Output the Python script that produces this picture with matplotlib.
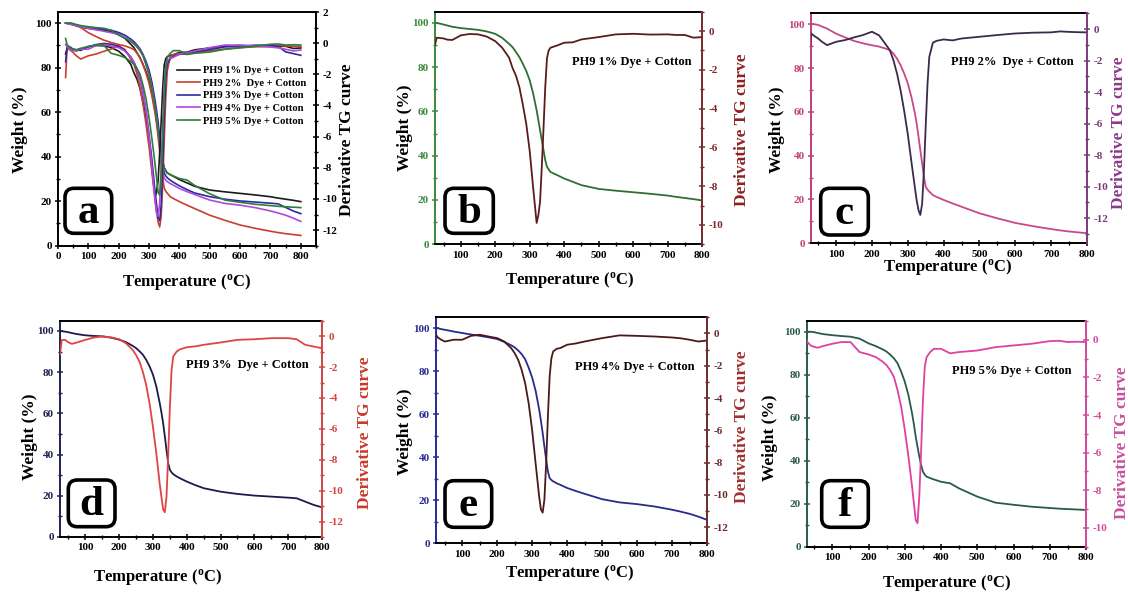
import matplotlib.pyplot as plt
from matplotlib.patches import FancyBboxPatch
from matplotlib.ticker import MultipleLocator

plt.rcParams["font.family"] = "serif"
plt.rcParams["font.serif"] = ["Liberation Serif", "DejaVu Serif"]
plt.rcParams["font.weight"] = "bold"
plt.rcParams["mathtext.default"] = "regular"
plt.rcParams["axes.unicode_minus"] = False

W, H = 1128, 592

# temperature grid (°C), shared by all samples
temp = [25, 30, 40, 50, 60, 75, 100, 125, 150, 175, 200, 220, 240, 250, 260,
        270, 280, 290, 300, 310, 320, 325, 330, 335, 340, 345, 350, 355, 360,
        370, 380, 400, 425, 450, 500, 550, 600, 650, 700, 725, 750, 775, 800]

# weight (%)
weight_1 = [100, 99.9, 99.6, 99.2, 98.8, 98.2, 97.6, 97.2, 96.8, 96.1, 95.0, 93.2, 90.5, 89.0, 86.8,
            84.5, 81.5, 78.2, 74.0, 68.0, 60.5, 56.0, 51.5, 47.0, 42.5, 38.0, 35.0, 33.8, 32.7,
            31.9, 31.2, 29.7, 28.2, 26.7, 25.0, 24.2, 23.5, 22.8, 22.0, 21.4, 20.9, 20.4, 19.8]
weight_2 = [100, 100, 100, 99.7, 99.0, 98.0, 95.7, 94.0, 92.4, 91.3, 90.4, 89.8, 88.8, 88.1, 86.6,
            84.3, 81.3, 77.5, 73.0, 66.9, 59.3, 54.5, 48.6, 42.5, 36.5, 30.4, 25.8, 24.5, 23.6,
            22.0, 21.2, 19.8, 18.2, 16.7, 13.7, 11.4, 9.3, 7.8, 6.5, 5.9, 5.4, 5.0, 4.6]
weight_3 = [100, 99.9, 99.7, 99.4, 99.0, 98.5, 97.9, 97.6, 97.4, 96.8, 95.8, 94.6, 92.8, 91.7, 90.2,
            88.5, 86.0, 82.8, 78.8, 73.0, 65.0, 60.5, 55.3, 49.0, 42.3, 35.8, 32.6, 31.4, 30.5,
            29.4, 28.5, 26.9, 25.2, 23.7, 22.0, 20.9, 20.1, 19.6, 19.1, 18.8, 17.2, 15.6, 14.4]
weight_4 = [100, 99.9, 99.5, 99.2, 98.9, 98.4, 97.7, 97.0, 96.4, 95.7, 94.9, 93.6, 92.0, 91.0, 89.6,
            87.9, 85.5, 81.6, 77.0, 70.8, 62.2, 57.0, 51.3, 45.0, 38.9, 33.4, 30.3, 29.4, 28.8,
            27.9, 27.2, 25.7, 24.3, 23.0, 20.5, 19.0, 18.2, 17.1, 15.6, 14.7, 13.7, 12.4, 10.9]
weight_5 = [100, 100, 100, 99.8, 99.4, 98.9, 98.4, 98.0, 97.7, 96.8, 94.6, 93.3, 91.7, 90.7, 89.3,
            87.6, 85.3, 81.4, 76.7, 70.5, 62.0, 57.0, 51.2, 46.5, 41.9, 38.0, 34.9, 33.5, 32.6,
            31.9, 31.3, 30.2, 29.5, 27.1, 23.3, 20.5, 19.5, 18.6, 18.0, 17.7, 17.5, 17.3, 17.1]

# derivative TG
dtg_1 = [-0.7, -0.34, -0.36, -0.38, -0.44, -0.46, -0.22, -0.15, -0.17, -0.28, -0.52, -0.86, -1.37, -1.9, -2.3,
         -2.9, -3.8, -4.8, -6.2, -8.1, -9.9, -9.5, -8.8, -7.0, -5.0, -2.9, -1.4, -1.0, -0.86,
         -0.8, -0.74, -0.6, -0.58, -0.43, -0.31, -0.17, -0.14, -0.18, -0.17, -0.2, -0.2, -0.34, -0.31]
dtg_2 = [-2.2, -0.28, -0.45, -0.6, -0.8, -1.02, -0.81, -0.7, -0.53, -0.38, -0.17, -0.4, -1.02, -1.34, -1.98,
         -2.83, -3.9, -5.2, -6.67, -8.4, -10.1, -10.9, -11.5, -11.8, -11.1, -9.0, -6.2, -3.5, -1.77,
         -0.87, -0.75, -0.66, -0.72, -0.6, -0.49, -0.38, -0.28, -0.23, -0.21, -0.15, -0.18, -0.2, -0.21]
dtg_3 = [-1.2, -0.25, -0.24, -0.4, -0.5, -0.41, -0.24, -0.09, -0.02, -0.07, -0.2, -0.46, -0.89, -1.22, -1.65,
         -2.3, -3.17, -4.36, -5.88, -7.6, -9.57, -10.4, -11.2, -11.4, -10.4, -7.8, -4.6, -2.2, -1.32,
         -1.0, -0.85, -0.72, -0.66, -0.56, -0.41, -0.24, -0.2, -0.13, -0.13, -0.2, -0.56, -0.67, -0.78]
dtg_4 = [-0.08, -0.25, -0.39, -0.5, -0.46, -0.39, -0.39, -0.15, -0.08, -0.19, -0.29, -0.5, -0.91, -1.22, -1.64,
         -2.26, -3.09, -4.33, -6.0, -8.07, -10.1, -10.9, -11.1, -10.3, -8.06, -5.16, -2.67, -1.53, -1.12,
         -0.95, -0.91, -0.7, -0.62, -0.5, -0.29, -0.12, -0.15, -0.19, -0.25, -0.3, -0.39, -0.5, -0.44]
dtg_5 = [0.3, -0.1, -0.3, -0.38, -0.42, -0.33, -0.21, -0.12, -0.12, -0.65, -0.78, -0.92, -1.18, -1.36, -1.63,
         -1.98, -2.69, -3.57, -4.8, -6.22, -7.8, -8.7, -9.58, -9.75, -8.3, -5.87, -3.2, -1.45, -0.92,
         -0.65, -0.48, -0.48, -0.72, -0.65, -0.57, -0.39, -0.3, -0.21, -0.07, -0.05, -0.12, -0.1, -0.12]

weights = [weight_1, weight_2, weight_3, weight_4, weight_5]
dtgs = [dtg_1, dtg_2, dtg_3, dtg_4, dtg_5]
sample_names = ["PH9 1% Dye + Cotton", "PH9 2%  Dye + Cotton", "PH9 3% Dye + Cotton",
                "PH9 4% Dye + Cotton", "PH9 5% Dye + Cotton"]
panel_titles = ["PH9 1% Dye + Cotton", "PH9 2%  Dye + Cotton", "PH9 3%  Dye + Cotton",
                "PH9 4% Dye + Cotton", "PH9 5% Dye + Cotton"]
overlay_colors = ["#1a1a1a", "#c8402c", "#2b2b9b", "#b048e0", "#2e7d3a"]

# single-sample panels: pixel box, limits, colours, letter box and text positions
panels = [
    dict(box=(435, 11.7, 702, 244.3), xlim=(25, 800), rlim=(-11, 1), wc="#2f6f34", dc="#5a1c1c",
         lc="#3a8a3a", rc="#7a2a2a", rl="#8b2222", letter="b", lbox=(445, 188.3, 493.3, 233.3),
         title=(632, 62), ylab=(405, 128), rlab=(741.7, 130), xlab=(570, 280)),
    dict(box=(811, 13.3, 1087, 243.3), xlim=(30, 800), rlim=(-13.6, 1), wc="#c8488a", dc="#3c2a4c",
         lc="#c0407a", rc="#7a3a7a", rl="#8a3a8a", letter="c", lbox=(820.7, 188.3, 868.3, 235),
         title=(1012, 62), ylab=(776.7, 130), rlab=(1119, 133), xlab=(948, 267)),
    dict(box=(60, 320.7, 322, 537), xlim=(25, 800), rlim=(-13, 1), wc="#1c1c4c", dc="#e04444",
         lc="#202050", rc="#d04444", rl="#c83a2a", letter="d", lbox=(68.3, 480, 115, 526.7),
         title=(247, 365), ylab=(30, 436.7), rlab=(365, 433), xlab=(158, 577)),
    dict(box=(436, 317.3, 707, 543.3), xlim=(25, 800), rlim=(-13, 1), wc="#2a2a8a", dc="#4a1a1a",
         lc="#2a2a90", rc="#6b2b2b", rl="#a03030", letter="e", lbox=(445, 480.7, 491.7, 527.3),
         title=(635, 367), ylab=(405, 431.7), rlab=(741.7, 426.7), xlab=(570, 573)),
    dict(box=(807, 321, 1086, 546.7), xlim=(30, 800), rlim=(-11, 1), wc="#2a5a4c", dc="#e040a0",
         lc="#2a5a50", rc="#d44a9c", rl="#c8509c", letter="f", lbox=(821.7, 480.7, 868.3, 527.3),
         title=(1012, 371), ylab=(770, 438), rlab=(1121.7, 443), xlab=(946.7, 583)),
]

fig = plt.figure(figsize=(W / 100, H / 100), dpi=100)


def px_rect(l, t, r, b):
    return [l / W, 1 - b / H, (r - l) / W, (b - t) / H]


def fig_text(x, y, s, **kw):
    fig.text(x / W, 1 - y / H, s, ha="center", va="center", **kw)


def letter_box(l, t, r, b, letter):
    patch = FancyBboxPatch((l / 100, (H - b) / 100), (r - l) / 100, (b - t) / 100,
                           boxstyle="round,pad=0,rounding_size=0.09",
                           transform=fig.dpi_scale_trans, fc="white", ec="black", lw=2.6,
                           zorder=5)
    fig.add_artist(patch)
    fig.text((l + r) / 2 / W, 1 - ((t + b) / 2 + 2) / H, letter, ha="center", va="center",
             fontsize=31, fontweight="bold", zorder=6)


def style_axes(ax, ax2, lc, rc, xlim, rlim):
    ax.set_xlim(*xlim)
    ax.set_ylim(0, 105)
    ax2.set_ylim(*rlim)
    ax.xaxis.set_major_locator(MultipleLocator(100))
    ax.xaxis.set_minor_locator(MultipleLocator(50))
    ax.yaxis.set_major_locator(MultipleLocator(20))
    ax.yaxis.set_minor_locator(MultipleLocator(10))
    ax2.yaxis.set_major_locator(MultipleLocator(2))
    ax2.yaxis.set_minor_locator(MultipleLocator(1))
    for a in (ax, ax2):
        a.tick_params(which="major", direction="inout", length=5, width=1.1, labelsize=8, pad=2)
        a.tick_params(which="minor", direction="inout", length=3, width=1)
    ax.spines["right"].set_visible(False)
    for s in ("left", "top", "bottom"):
        ax2.spines[s].set_visible(False)
    for s in ("left", "top", "bottom"):
        ax.spines[s].set_linewidth(1.4)
    ax2.spines["right"].set_linewidth(1.4)
    ax.spines["left"].set_color(lc)
    ax.tick_params(axis="y", which="both", colors=lc)
    ax2.spines["right"].set_color(rc)
    ax2.tick_params(axis="y", which="both", colors=rc)


# panel a: all samples overlaid
ax = fig.add_axes(px_rect(58, 12, 316, 245.7))
ax2 = ax.twinx()
lines = []
for w, d, c, name in zip(weights, dtgs, overlay_colors, sample_names):
    ln, = ax.plot(temp, w, color=c, lw=1.2, label=name)
    ax2.plot(temp, d, color=c, lw=1.2)
    lines.append(ln)
style_axes(ax, ax2, "black", "black", (0, 850), (-13, 2))
ax2.legend(lines, sample_names, loc="upper right", bbox_to_anchor=((306 - 58) / 258, 1 - (66 - 12) / 233.7),
           frameon=False, handlelength=2.2, handletextpad=0.25, labelspacing=0.3,
           borderpad=0, borderaxespad=0, prop={"weight": "bold", "size": 7.6})
fig_text(20, 130, "Weight (%)", rotation=90, fontsize=12.5, fontweight="bold")
fig_text(346.7, 140, "Derivative TG curve", rotation=90, fontsize=12.5, fontweight="bold")
fig_text(187, 282, r"Temperature ($^{\mathregular{o}}$C)", fontsize=12, fontweight="bold")
letter_box(65, 188.3, 111.7, 233.3, "a")

# panels b-f: one sample each
for i, p in enumerate(panels):
    ax = fig.add_axes(px_rect(*p["box"]))
    ax2 = ax.twinx()
    ax.plot(temp, weights[i], color=p["wc"], lw=1.3)
    ax2.plot(temp, dtgs[i], color=p["dc"], lw=1.3)
    style_axes(ax, ax2, p["lc"], p["rc"], p["xlim"], p["rlim"])
    fig_text(*p["title"], panel_titles[i], fontsize=9, fontweight="bold")
    fig_text(*p["ylab"], "Weight (%)", rotation=90, fontsize=12.5, fontweight="bold")
    fig_text(*p["rlab"], "Derivative TG curve", rotation=90, fontsize=12.5, fontweight="bold",
             color=p["rl"])
    fig_text(*p["xlab"], r"Temperature ($^{\mathregular{o}}$C)", fontsize=12, fontweight="bold")
    letter_box(*p["lbox"], p["letter"])

fig.savefig("out.png", dpi=100)
